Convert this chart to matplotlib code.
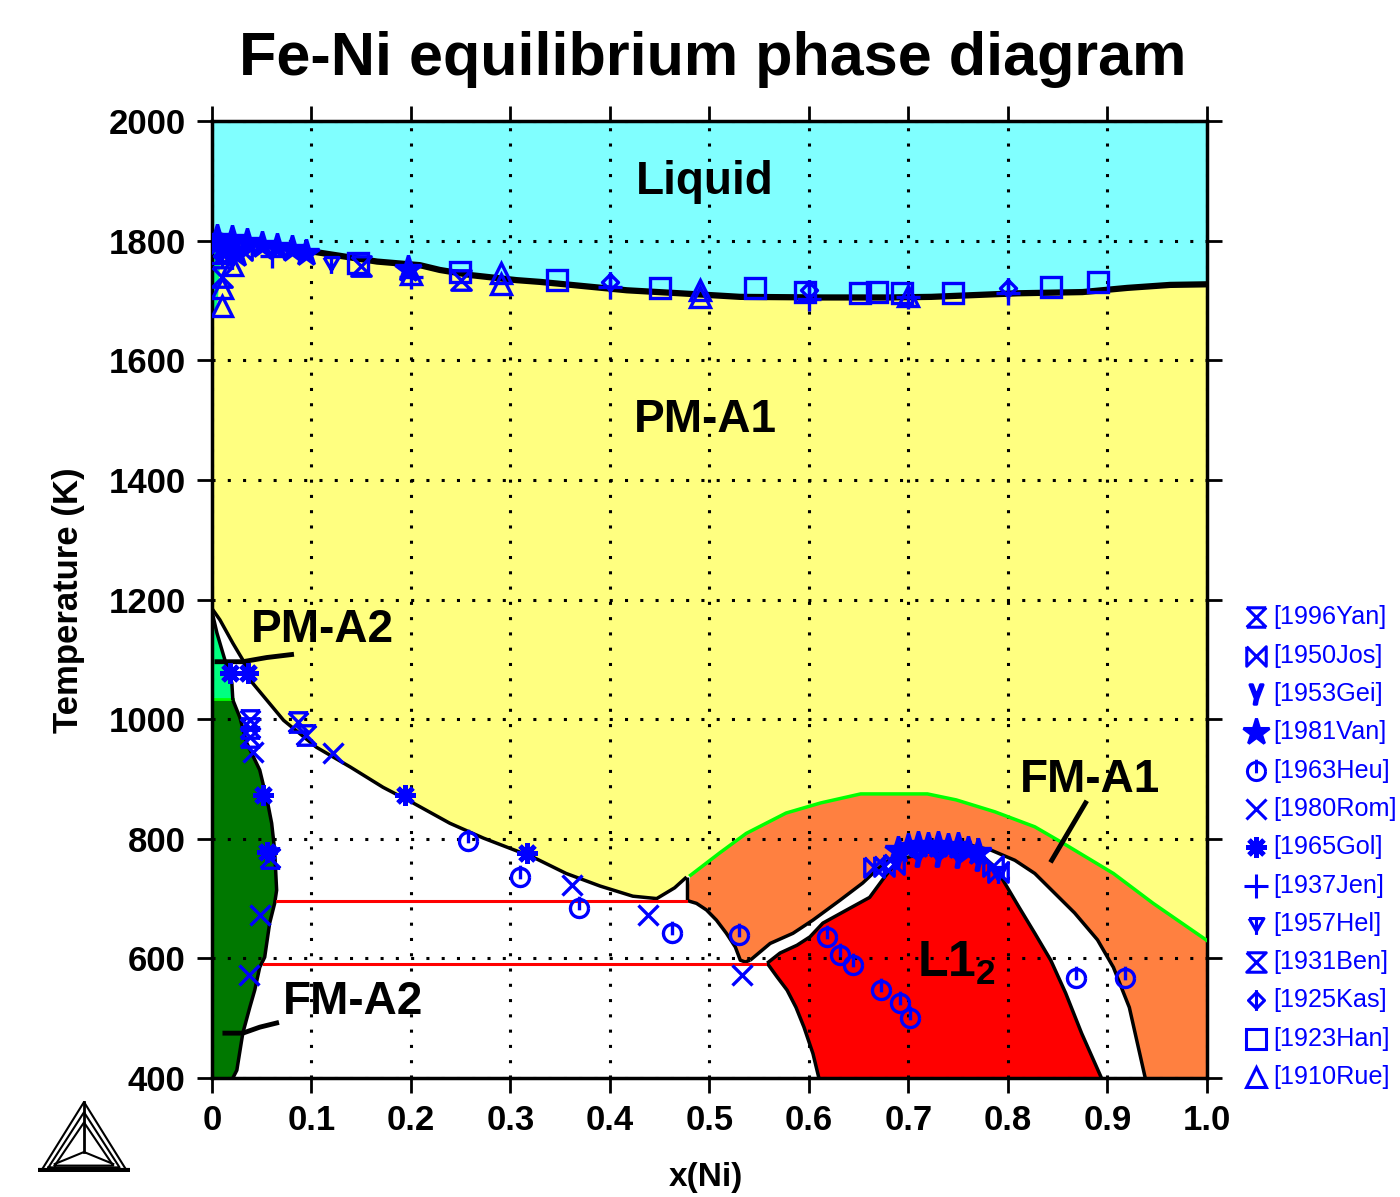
import numpy as np
import matplotlib
matplotlib.use('Agg')
import matplotlib.pyplot as plt
import matplotlib.path as mpath

plt.rcParams['font.family'] = ['Liberation Sans', 'DejaVu Sans']
plt.rcParams['mathtext.default'] = 'regular'

# ---------------- phase boundaries (x(Ni), T in K) ----------------
liq_x = [0.0, 0.02, 0.05, 0.1, 0.166, 0.209, 0.229, 0.262, 0.306, 0.33, 0.417, 0.47, 0.531,
         0.614, 0.68, 0.723, 0.81, 0.875, 0.92, 0.963, 1.0]
liq_T = [1811, 1805, 1795, 1782, 1765, 1759, 1751, 1742, 1734, 1731, 1717, 1712, 1706,
         1705, 1705, 1706, 1712, 1714, 1721, 1726, 1727]

delta_x = [0.0, 0.006, 0.008, 0.005, 0.0]
delta_T = [1667, 1700, 1760, 1800, 1811]

# PM-A1 / (A1+A2) boundary
a1_x = [0.0, 0.008, 0.021, 0.031, 0.041, 0.072, 0.105, 0.139, 0.172, 0.202, 0.239, 0.273,
        0.323, 0.356, 0.39, 0.423, 0.447, 0.465, 0.477]
a1_T = [1185, 1166, 1127, 1099, 1060, 998, 953, 920, 886, 860, 826, 801,
        769, 742, 721, 704, 700, 718, 736]

# Curie line on top of FM-A1
curie_x = [0.481, 0.51, 0.537, 0.577, 0.612, 0.652, 0.719, 0.748, 0.787, 0.827, 0.855,
           0.906, 0.946, 1.0]
curie_T = [739, 776, 809, 843, 860, 875, 875, 865, 845, 820, 793, 742, 692, 630]

# lower-left edge of FM-A1
fm_low_x = [0.477, 0.487, 0.497, 0.507, 0.517, 0.526, 0.531, 0.536, 0.541]
fm_low_T = [697, 692, 681, 664, 642, 619, 597, 594, 597]

# outer loop round L1_2 (FM-A1 | two phase)
outer_x = [0.541, 0.561, 0.584, 0.604, 0.631, 0.654, 0.668, 0.68, 0.70, 0.73, 0.76, 0.783,
           0.807, 0.827, 0.847, 0.867, 0.89, 0.906, 0.922, 0.938]
outer_T = [597, 625, 642, 664, 697, 726, 748, 764, 782, 792, 790, 781,
           764, 742, 709, 676, 631, 585, 518, 400]

# inner loop (L1_2 edge)
inner_x = [0.558, 0.571, 0.588, 0.601, 0.614, 0.638, 0.661, 0.676, 0.69, 0.72, 0.75, 0.775,
           0.787, 0.795, 0.811, 0.827, 0.843, 0.858, 0.874, 0.894]
inner_T = [592, 609, 622, 636, 659, 681, 702, 736, 765, 778, 778, 770,
           753, 731, 686, 642, 597, 542, 475, 400]

# left edge of L1_2 going down
l12_left_x = [0.558, 0.568, 0.578, 0.587, 0.595, 0.604, 0.61]
l12_left_T = [592, 569, 547, 518, 485, 441, 400]

# PM-A2 (gamma-loop side)
pma2_x = [0.0, 0.005, 0.013, 0.02, 0.021]
pma2_T = [1180, 1144, 1099, 1060, 1032]

# FM-A2 edge
fma2_x = [0.021, 0.028, 0.035, 0.048, 0.056, 0.06, 0.063, 0.065, 0.063, 0.058, 0.053, 0.048,
          0.043, 0.038, 0.031, 0.025, 0.021]
fma2_T = [1032, 1003, 960, 915, 860, 826, 781, 714, 692, 659, 602, 585,
          547, 518, 475, 413, 400]

# red tie lines
tie_T = [696, 590]
tie_x0 = [0.065, 0.052]
tie_x1 = [0.476, 0.556]

# ---------------- experimental data ----------------
refs = ['[1996Yan]', '[1950Jos]', '[1953Gei]', '[1981Van]', '[1963Heu]', '[1980Rom]',
        '[1965Gol]', '[1937Jen]', '[1957Hel]', '[1931Ben]', '[1925Kas]', '[1923Han]',
        '[1910Rue]']

yan_x = [0.038, 0.038, 0.038, 0.086, 0.095, 0.058]
yan_T = [998, 985, 970, 995, 973, 768]
jos_x = [0.665, 0.675, 0.685, 0.785, 0.79, 0.005, 0.03]
jos_T = [752, 755, 758, 755, 745, 1790, 1785]
gei_x = [0.69, 0.71, 0.73, 0.75, 0.77]
gei_T = [768, 772, 772, 770, 765]
van_x = [0.69, 0.70, 0.71, 0.72, 0.73, 0.74, 0.75, 0.76, 0.77, 0.197,
         0.005, 0.02, 0.035, 0.05, 0.065, 0.08, 0.095, 0.012, 0.025]
van_T = [782, 786, 790, 788, 790, 786, 788, 782, 778, 1752,
         1805, 1802, 1798, 1792, 1790, 1786, 1780, 1782, 1778]
heu_x = [0.257, 0.31, 0.369, 0.462, 0.53, 0.618, 0.631, 0.644, 0.672, 0.692, 0.702, 0.868, 0.918]
heu_T = [797, 736, 684, 642, 639, 636, 605, 589, 547, 525, 500, 568, 568]
rom_x = [0.122, 0.362, 0.438, 0.533, 0.037, 0.048, 0.041]
rom_T = [943, 722, 672, 572, 572, 672, 945]
gol_x = [0.194, 0.317, 0.051, 0.018, 0.036, 0.055]
gol_T = [873, 776, 873, 1077, 1077, 778]
jen_x = [0.2, 0.4, 0.6, 0.7, 0.8, 0.06]
jen_T = [1740, 1722, 1703, 1705, 1712, 1775]
hel_x = [0.12, 0.79, 0.02]
hel_T = [1762, 742, 1770]
ben_x = [0.15, 0.25, 0.01]
ben_T = [1758, 1735, 1740]
kas_x = [0.40, 0.60, 0.80, 0.01]
kas_T = [1731, 1717, 1720, 1775]
han_x = [0.147, 0.249, 0.347, 0.45, 0.546, 0.596, 0.651, 0.668, 0.694, 0.745, 0.843, 0.891, 0.005]
han_T = [1762, 1747, 1734, 1721, 1720, 1714, 1712, 1714, 1712, 1712, 1722, 1731, 1780]
rue_x = [0.01, 0.01, 0.291, 0.291, 0.491, 0.491, 0.7, 0.2, 0.02]
rue_T = [1690, 1720, 1746, 1728, 1718, 1705, 1708, 1745, 1760]

data_x = [yan_x, jos_x, gei_x, van_x, heu_x, rom_x, gol_x, jen_x, hel_x, ben_x, kas_x, han_x, rue_x]
data_T = [yan_T, jos_T, gei_T, van_T, heu_T, rom_T, gol_T, jen_T, hel_T, ben_T, kas_T, han_T, rue_T]


# ---------------- marker shapes ----------------
def lines_path(*polys):
    verts, codes = [], []
    for p in polys:
        verts += p
        codes += [mpath.Path.MOVETO] + [mpath.Path.LINETO] * (len(p) - 1)
    return mpath.Path(verts, codes)


t = np.linspace(0, 2 * np.pi, 25)
circ = [(np.cos(a), np.sin(a)) for a in t]
m_yan = lines_path([(-1, 1), (1, 1)], [(-1, -1), (1, -1)], [(-1, 1), (1, -1)], [(1, 1), (-1, -1)])
m_jos = lines_path([(-1, 1), (-1, -1), (1, 1), (1, -1), (-1, 1)])
m_heu = lines_path(circ, [(0, -0.2), (0, 1.3)])
m_hel = lines_path([(-1, 0.8), (1, 0.8), (0, -0.9), (-1, 0.8)], [(0, 0.8), (0, -1.4)])
m_ben = lines_path([(-1, 1), (1, 1), (-1, -1), (1, -1), (-1, 1)])
m_kas = lines_path([(0, 1), (1, 0), (0, -1), (-1, 0), (0, 1)], [(0, 1.3), (0, -1.3)])

styles = [
    dict(marker=m_yan, mfc='none', ms=14),
    dict(marker=m_jos, mfc='none', ms=14),
    dict(marker='$\\gamma$', ms=14),
    dict(marker='*', ms=20),
    dict(marker=m_heu, mfc='none', ms=17),
    dict(marker='x', ms=15),
    dict(marker=(8, 2, 0), ms=15, mew=3.5),
    dict(marker='+', ms=17),
    dict(marker=m_hel, mfc='none', ms=15),
    dict(marker=m_ben, mfc='none', ms=14),
    dict(marker=m_kas, mfc='none', ms=15),
    dict(marker='s', mfc='none', ms=15),
    dict(marker='^', mfc='none', ms=15),
]

blue = '#0000ff'

# ---------------- figure ----------------
fig = plt.figure(figsize=(14, 11.97), dpi=100)
ax = fig.add_axes([0.1514, 0.0994, 0.7107, 0.7995])
ax.set_xlim(0, 1)
ax.set_ylim(400, 2000)

# fills
ax.fill_between([0, 1], 400, 2000, color='#80ffff', lw=0, zorder=0.5)
ax.fill_between(liq_x, 400, liq_T, color='#ffff80', lw=0, zorder=0.6)
ax.fill(delta_x, delta_T, color='#00ff80', lw=0, zorder=0.7)

white_x = a1_x + curie_x + [1.0, 0.0]
white_T = a1_T + curie_T + [400, 400]
ax.fill(white_x, white_T, color='white', lw=0, zorder=0.7)

orange_x = curie_x + [1.0] + outer_x[::-1] + fm_low_x[::-1]
orange_T = curie_T + [400] + outer_T[::-1] + fm_low_T[::-1]
ax.fill(orange_x, orange_T, color='#ff8040', lw=0, zorder=0.8)

red_x = inner_x + l12_left_x[::-1]
red_T = inner_T + l12_left_T[::-1]
ax.fill(red_x, red_T, color='#ff0000', lw=0, zorder=0.9)

ax.fill(pma2_x + [0.0], pma2_T + [1032], color='#00ff80', lw=0, zorder=0.9)
ax.fill(fma2_x + [0.0, 0.0], fma2_T + [400, 1032], color='#007800', lw=0, zorder=0.9)
ax.plot([0.0, 0.021], [1033, 1033], color='#00ff00', lw=2, zorder=1)

ax.set_axisbelow('line')
ax.grid(True, color='black', ls=(0, (1, 4)), lw=2.2)

# boundary lines
lk = dict(color='black', lw=2.5, zorder=3, solid_capstyle='butt')
ax.plot(liq_x, liq_T, color='black', lw=4.5, zorder=3)
ax.plot(a1_x, a1_T, **lk)
ax.plot([a1_x[-1], fm_low_x[0]], [a1_T[-1], fm_low_T[0]], **lk)
ax.plot(fm_low_x, fm_low_T, **lk)
ax.plot(outer_x, outer_T, **lk)
ax.plot(inner_x, inner_T, **lk)
ax.plot(l12_left_x, l12_left_T, **lk)
ax.plot(pma2_x, pma2_T, **lk)
ax.plot(fma2_x, fma2_T, **lk)
ax.plot(curie_x, curie_T, color='#00ff00', lw=2.5, zorder=3)
for T, x0, x1 in zip(tie_T, tie_x0, tie_x1):
    ax.plot([x0, x1], [T, T], color='#ff0000', lw=2.2, zorder=3)

# leader lines for labels
ax.plot([0.005, 0.031, 0.055, 0.08], [1096, 1096, 1103, 1108], color='black', lw=3.5, zorder=3)
ax.plot([0.013, 0.031, 0.048, 0.065], [475, 475, 485, 492], color='black', lw=3.5, zorder=3)
ax.plot([0.844, 0.878], [764, 860], color='black', lw=3.5, zorder=3)

# data points
for xs, Ts, st in zip(data_x, data_T, styles):
    kw = dict(mew=2.4)
    kw.update(st)
    ax.plot(xs, Ts, ls='none', color=blue, zorder=5, **kw)

# phase labels
lab = dict(fontsize=33, fontweight='bold', ha='center', va='center', zorder=6)
ax.text(0.4955, 1898, 'Liquid', **lab)
ax.text(0.4955, 1500, 'PM-A1', **lab)
ax.text(0.1106, 1149, 'PM-A2', **lab)
ax.text(0.142, 527, 'FM-A2', **lab)
ax.text(0.882, 898, 'FM-A1', **lab)
ax.text(0.748, 592, 'L1$_2$', fontsize=36, fontweight='bold', ha='center', va='center', zorder=6)

# axes styling
ax.set_xticks(np.arange(0, 1.01, 0.1))
ax.set_xticklabels(['0'] + ['%.1f' % v for v in np.arange(0.1, 1.01, 0.1)])
ax.set_yticks(np.arange(400, 2001, 200))
ax.tick_params(direction='out', length=11, width=2, top=True, right=True, pad=8)
for lbl in ax.get_xticklabels() + ax.get_yticklabels():
    lbl.set_fontweight('bold')
    lbl.set_fontsize(25)
for s in ax.spines.values():
    s.set_linewidth(2.5)

fig.text(0.509, 0.950, 'Fe-Ni equilibrium phase diagram', fontsize=44, fontweight='bold',
         ha='center', va='center')
fig.text(0.0486, 0.499, 'Temperature (K)', rotation=90, fontsize=25, fontweight='bold',
         ha='center', va='center')
fig.text(0.504, 0.016, 'x(Ni)', fontsize=24, fontweight='bold', ha='center', va='center')

# legend column on the right
lax = fig.add_axes([1230 / 1400, 1 - 1096.15 / 1197, 170 / 1400, 497.9 / 1197])
lax.set_xlim(0, 170)
lax.set_ylim(12.5, -0.5)
lax.axis('off')
for i, (name, st) in enumerate(zip(refs, styles)):
    kw = dict(mew=2.2)
    kw.update(st)
    lax.plot([26], [i], ls='none', color=blue, clip_on=False, **kw)
    lax.text(43, i, name, color=blue, fontsize=18.2, va='center', ha='left')

# Thermo-Calc style logo
gax = fig.add_axes([38 / 1400, 1 - 1172 / 1197, 92 / 1400, 72 / 1197])
gax.set_xlim(-1.1, 1.1)
gax.set_ylim(-0.05, 1.75)
gax.axis('off')
for s in [1.0, 0.85, 0.7]:
    gax.plot([-s, s, 0, -s], [0.02 + (1 - s) * 0.3, 0.02 + (1 - s) * 0.3, 1.7 * s, 0.02 + (1 - s) * 0.3],
             color='black', lw=1.5)
gax.plot([0, 0], [0.45, 1.7], color='black', lw=2)
gax.plot([-0.7, 0, 0.7], [0.15, 0.45, 0.15], color='black', lw=1.5)
gax.plot([-1.05, 1.05], [0.0, 0.0], color='black', lw=3)

fig.savefig('out.png', dpi=100)
